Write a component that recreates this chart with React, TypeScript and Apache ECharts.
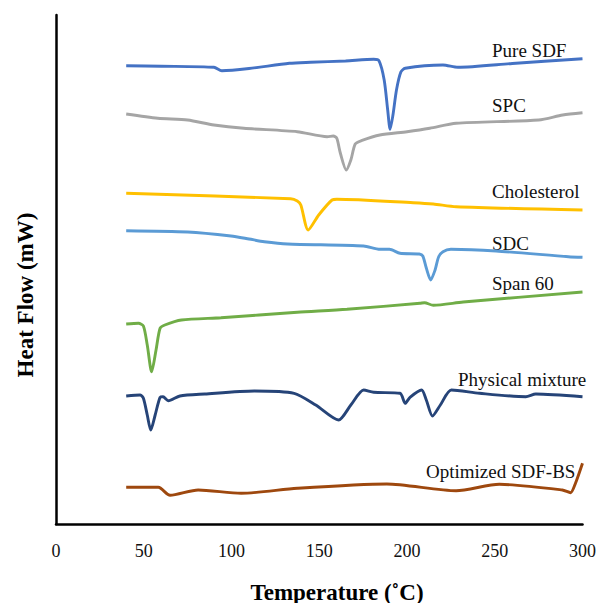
import React, { useEffect, useRef } from "react";
import * as echarts from "echarts";

// Temperature (°C) and heat-flow readings (arbitrary offset units) for each trace
const pureSdfT = [40, 60, 90, 94.5, 110, 133, 145, 165, 181, 184, 187, 189, 190.4, 192, 194, 196.5, 199, 220.5, 229, 260, 300];
const pureSdfV = [458.3, 457.8, 456.7, 453.3, 455.5, 460.7, 461.7, 463, 464.7, 463.3, 444, 414, 394.7, 409, 434, 452, 455.7, 459, 456.7, 460.5, 465.3];

const spcT = [40, 58, 75, 90, 107, 137.5, 154.5, 158, 160, 162, 165.4, 168, 170.5, 174, 184.5, 200, 213, 228, 275, 288.7, 300];
const spcV = [410, 405.7, 404, 399, 395.7, 392.3, 387.3, 388, 385.7, 371, 354, 364, 380, 383.3, 389, 392.3, 395.7, 400.7, 404, 409, 411.3];

const cholT = [40, 133.7, 137.5, 139.5, 143.7, 149.7, 157.3, 160, 203.6, 215, 228, 300];
const cholV = [330.7, 325.3, 323, 319, 294, 309, 324, 324.7, 321.3, 320, 317.3, 314];

const sdcT = [40, 75, 99.7, 110, 118.7, 132, 175.3, 184.6, 190, 196, 207, 209, 211, 213.5, 216, 218, 220.5, 225, 250.8, 292, 300];
const sdcV = [293.3, 292, 288, 285, 282.3, 280, 278, 274.7, 274.7, 270.7, 270, 268, 256, 244, 254, 267, 272.3, 274.7, 273, 267.3, 266.7];

const span60T = [40, 47, 49.8, 52, 54.5, 57, 59.3, 62, 71.5, 94, 137.5, 165.8, 207.4, 210, 215, 232, 300];
const span60V = [200, 200.7, 198, 179, 152.3, 174, 195.7, 199, 204, 206.3, 211.7, 214.7, 220.7, 221.3, 218.7, 222, 232];

const mixT = [40, 48, 49.8, 52, 54, 56.5, 59.3, 61, 64, 70.6, 84.7, 113, 135.7, 148, 161, 168, 175.3, 181, 196, 199, 201.7, 208.3, 211, 214.5, 219, 225.3, 241.3, 267.7, 273.4, 300];
const mixV = [128, 129, 125.7, 109, 94, 109, 126.7, 127.3, 123.3, 128, 130, 133, 130.7, 119, 104, 119, 134, 131.7, 130.7, 120.7, 126.7, 134, 124, 108, 119, 134, 130.7, 127.3, 130, 127.3];

const optT = [40, 58.3, 65, 81, 105.5, 137.5, 188.5, 228, 252.6, 288.5, 293.2, 296, 300];
const optV = [36.7, 36.7, 28.7, 34, 30.7, 35.7, 40, 33.3, 39.7, 34, 31.3, 40.7, 60.7];

const xTicks = [0, 50, 100, 150, 200, 250, 300];

const traces = [
  { name: "Pure SDF", t: pureSdfT, v: pureSdfV, color: "#4472C4" },
  { name: "SPC", t: spcT, v: spcV, color: "#A5A5A5" },
  { name: "Cholesterol", t: cholT, v: cholV, color: "#FFC000" },
  { name: "SDC", t: sdcT, v: sdcV, color: "#5B9BD5" },
  { name: "Span 60", t: span60T, v: span60V, color: "#70AD47" },
  { name: "Physical mixture", t: mixT, v: mixV, color: "#264478" },
  { name: "Optimized SDF-BS", t: optT, v: optV, color: "#9E480E" },
];

const labelPos = [
  { x: 492, y: 50 },
  { x: 492, y: 105 },
  { x: 492, y: 191 },
  { x: 492, y: 243 },
  { x: 492, y: 283 },
  { x: 458, y: 379 },
  { x: 426, y: 471 },
];

const FONT = "'Liberation Serif', 'Times New Roman', serif";

export default function App() {
  const ref = useRef<HTMLDivElement>(null);
  useEffect(() => {
    if (!ref.current) return;
    const chart = echarts.init(ref.current, undefined, { renderer: "svg" });
    const series = traces.map((tr) => ({
      type: "line",
      name: tr.name,
      data: tr.t.map((t, i) => [t, tr.v[i]]),
      showSymbol: false,
      smooth: 0.25,
      lineStyle: { color: tr.color, width: 2.9 },
      itemStyle: { color: tr.color },
    }));
    const labels = traces.map((tr, i) => ({
      type: "text",
      x: labelPos[i].x,
      y: labelPos[i].y,
      style: {
        text: tr.name,
        font: `19px ${FONT}`,
        fill: "#111",
        textAlign: "left",
        textVerticalAlign: "middle",
      },
    }));
    chart.setOption({
      animation: false,
      backgroundColor: "#fff",
      grid: { left: 56, right: 14, top: 15, bottom: 79 },
      xAxis: {
        type: "value",
        min: 0,
        max: 300,
        interval: 50,
        axisLine: { show: true, lineStyle: { color: "#000", width: 2.5 } },
        axisTick: { show: false },
        splitLine: { show: false },
        axisLabel: {
          margin: 18,
          color: "#111",
          fontFamily: FONT,
          fontSize: 18,
          customValues: xTicks,
        },
      },
      yAxis: {
        type: "value",
        min: 0,
        max: 509,
        axisLine: { show: true, lineStyle: { color: "#000", width: 2.5 } },
        axisTick: { show: false },
        axisLabel: { show: false },
        splitLine: { show: false },
      },
      series,
      graphic: [
        ...labels,
        {
          type: "text",
          x: 337,
          y: 592,
          style: {
            text: "Temperature (˚C)",
            font: `bold 23px ${FONT}`,
            fill: "#000",
            textAlign: "center",
            textVerticalAlign: "middle",
          },
        },
        {
          type: "text",
          x: 25,
          y: 295,
          rotation: Math.PI / 2,
          style: {
            text: "Heat Flow (mW)",
            font: `bold 23px ${FONT}`,
            fill: "#000",
            textAlign: "center",
            textVerticalAlign: "middle",
          },
        },
      ],
    });
    return () => chart.dispose();
  }, []);
  return <div ref={ref} style={{ width: 599, height: 603, position: "absolute", left: 0, top: 0 }} />;
}
